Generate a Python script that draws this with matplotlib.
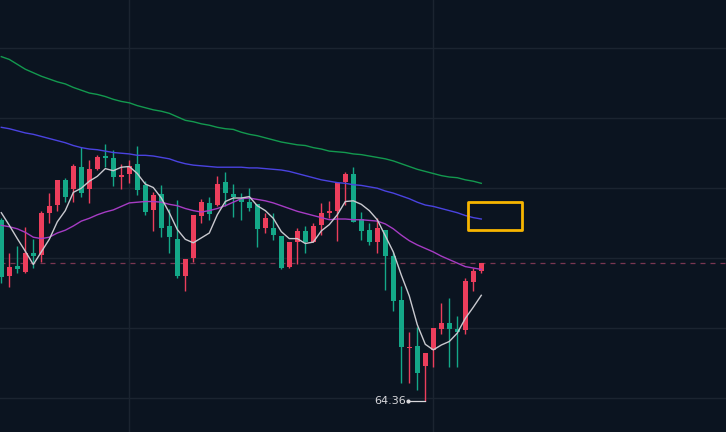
import matplotlib
matplotlib.use("Agg")
import matplotlib.pyplot as plt
from matplotlib.patches import Rectangle

# candle data (price), oldest first
opens = [66.95, 66.15, 66.29, 66.20, 66.47, 66.45, 67.05, 67.16, 67.52, 67.39,
         67.70, 67.39, 67.67, 67.86, 67.83, 67.56, 67.60, 67.75, 67.45, 67.09,
         67.32, 66.86, 66.67, 66.15, 66.40, 67.00, 67.19, 67.16, 67.49, 67.32,
         67.25, 67.20, 67.17, 66.83, 66.83, 66.72, 66.27, 66.63, 66.79, 66.63,
         66.87, 67.05, 67.07, 67.49, 67.60, 66.96, 66.80, 66.63, 66.80, 66.43,
         65.80, 65.12, 65.15, 64.86, 65.09, 65.39, 65.47, 65.39, 65.37, 66.06,
         66.22]
highs = [66.97, 66.47, 66.57, 66.85, 66.67, 67.07, 67.33, 67.52, 67.55, 67.75,
         67.99, 67.80, 67.87, 68.03, 67.95, 67.75, 67.80, 68.00, 67.50, 67.35,
         67.45, 67.10, 67.23, 66.39, 67.02, 67.25, 67.27, 67.57, 67.63, 67.46,
         67.33, 67.40, 67.17, 67.05, 67.05, 66.72, 66.63, 66.83, 66.86, 66.90,
         67.19, 67.22, 67.47, 67.63, 67.70, 67.06, 66.90, 66.97, 66.80, 66.49,
         66.00, 65.35, 65.42, 65.05, 65.40, 65.76, 65.83, 65.57, 66.12, 66.26,
         66.33]
lows = [66.05, 65.99, 66.19, 66.19, 66.26, 66.35, 66.90, 67.07, 67.20, 67.20,
        67.27, 67.19, 67.66, 67.70, 67.43, 67.39, 67.47, 67.30, 67.02, 66.79,
        66.70, 66.47, 66.12, 65.93, 66.35, 66.90, 66.95, 67.15, 67.15, 66.99,
        66.95, 67.07, 66.56, 66.76, 66.66, 66.25, 66.26, 66.32, 66.47, 66.63,
        66.73, 66.97, 66.65, 67.16, 66.92, 66.66, 66.59, 66.47, 65.95, 65.65,
        64.62, 64.62, 64.52, 64.36, 64.85, 65.32, 64.85, 64.85, 65.32, 65.93,
        66.19]
closes = [66.13, 66.27, 66.25, 66.47, 66.43, 67.05, 67.15, 67.52, 67.27, 67.72,
          67.33, 67.67, 67.85, 67.83, 67.56, 67.59, 67.72, 67.37, 67.06, 67.30,
          66.83, 66.70, 66.15, 66.39, 67.02, 67.20, 67.03, 67.46, 67.33, 67.27,
          67.20, 67.12, 66.82, 66.97, 66.73, 66.26, 66.63, 66.79, 66.63, 66.86,
          67.05, 67.07, 67.47, 67.60, 66.92, 66.79, 66.63, 66.83, 66.43, 65.79,
          65.13, 65.13, 64.76, 65.05, 65.40, 65.47, 65.39, 65.35, 66.07, 66.22,
          66.33]

# moving averages
ma5 = [67.05, 66.87, 66.68, 66.50, 66.31, 66.49, 66.67, 66.92, 67.08, 67.34,
       67.40, 67.50, 67.57, 67.68, 67.65, 67.70, 67.71, 67.61, 67.46, 67.41,
       67.26, 67.05, 66.81, 66.67, 66.62, 66.69, 66.76, 67.02, 67.21, 67.26,
       67.26, 67.28, 67.15, 67.08, 66.97, 66.78, 66.68, 66.68, 66.61, 66.63,
       66.79, 66.88, 67.02, 67.21, 67.22, 67.17, 67.08, 66.95, 66.72, 66.49,
       66.16, 65.86, 65.45, 65.17, 65.09, 65.16, 65.21, 65.33, 65.54, 65.70,
       65.87]
ma20 = [66.87, 66.85, 66.82, 66.77, 66.70, 66.68, 66.70, 66.76, 66.80, 66.86,
        66.93, 66.97, 67.02, 67.06, 67.09, 67.14, 67.19, 67.20, 67.21, 67.21,
        67.20, 67.17, 67.15, 67.11, 67.08, 67.06, 67.08, 67.11, 67.15, 67.20,
        67.25, 67.26, 67.24, 67.22, 67.19, 67.15, 67.11, 67.07, 67.04, 67.01,
        66.98, 66.95, 66.96, 66.96, 66.95, 66.95, 66.94, 66.93, 66.89, 66.82,
        66.73, 66.65, 66.59, 66.54, 66.49, 66.43, 66.38, 66.33, 66.28, 66.26,
        66.24]
ma60 = [68.27, 68.25, 68.22, 68.19, 68.17, 68.14, 68.11, 68.08, 68.05, 68.01,
        67.98, 67.96, 67.95, 67.93, 67.91, 67.90, 67.89, 67.87, 67.87, 67.86,
        67.84, 67.82, 67.78, 67.75, 67.73, 67.72, 67.71, 67.70, 67.70, 67.70,
        67.70, 67.69, 67.69, 67.68, 67.67, 67.66, 67.64, 67.61, 67.58, 67.55,
        67.52, 67.50, 67.48, 67.47, 67.45, 67.44, 67.42, 67.40, 67.36, 67.33,
        67.29, 67.25, 67.20, 67.16, 67.14, 67.11, 67.08, 67.05, 67.01, 66.98,
        66.96]
ma120 = [69.28, 69.24, 69.17, 69.10, 69.05, 69.00, 68.96, 68.92, 68.89, 68.84,
         68.80, 68.76, 68.74, 68.71, 68.67, 68.64, 68.62, 68.58, 68.55, 68.52,
         68.50, 68.47, 68.42, 68.37, 68.35, 68.32, 68.30, 68.27, 68.25, 68.24,
         68.20, 68.17, 68.15, 68.12, 68.09, 68.06, 68.04, 68.02, 68.01, 67.98,
         67.96, 67.93, 67.92, 67.91, 67.89, 67.88, 67.86, 67.84, 67.82, 67.79,
         67.75, 67.71, 67.67, 67.64, 67.61, 67.58, 67.56, 67.55, 67.52, 67.50,
         67.47]

grid_prices = [64.4, 65.4, 66.4, 67.4, 68.4, 69.4]
grid_bars = [16, 54]
box_x = (58.3, 65.15)
box_y = (66.80, 67.20)

BG = "#0b1420"
UP = "#ec3e5c"
DOWN = "#14a888"

fig = plt.figure(figsize=(7.26, 4.32), dpi=100)
fig.patch.set_facecolor(BG)
ax = fig.add_axes([0, 0, 1, 1])
ax.set_facecolor(BG)

for p in grid_prices:
    ax.axhline(p, color="#1b2430", lw=1, zorder=0)
for b in grid_bars:
    ax.axvline(b, color="#1b2430", lw=1, zorder=0)

w = 0.6
for i in range(len(closes)):
    o, h, l, c = opens[i], highs[i], lows[i], closes[i]
    col = UP if c >= o else DOWN
    ax.vlines(i, l, h, color=col, lw=1, zorder=2)
    bot = min(o, c)
    hgt = max(abs(c - o), 0.012)
    ax.add_patch(Rectangle((i - w / 2, bot), w, hgt, facecolor=col,
                           edgecolor="none", zorder=3))

x = list(range(len(closes)))
ax.plot(x, ma120, color="#13994f", lw=1, zorder=4)
ax.plot(x, ma60, color="#4a43e0", lw=1, zorder=4)
ax.plot(x, ma20, color="#a63cc4", lw=1, zorder=4)
ax.plot(x, ma5, color="#c9c9cf", lw=1, zorder=4)

# last price line
ax.axhline(closes[-1], color="#7a3652", lw=0.9, ls=(0, (4, 4)), zorder=1)

# lowest point marker
lo_i = lows.index(min(lows))
ax.plot([lo_i - 2.1, lo_i], [lows[lo_i]] * 2, color="#d8d8dc", lw=0.9, zorder=5)
ax.plot(lo_i - 2.1, lows[lo_i], "o", ms=2, color="#d8d8dc", zorder=5)
ax.text(lo_i - 2.4, lows[lo_i], f"{min(lows):.2f}", color="#d8d8dc",
        fontsize=8, ha="right", va="center", zorder=5)

ax.add_patch(Rectangle((box_x[0], box_y[0]), box_x[1] - box_x[0],
                       box_y[1] - box_y[0], fill=False, edgecolor="#f7b500",
                       lw=2, joinstyle="round", zorder=6))

ax.set_xlim(-0.1625, 90.59)
ax.set_ylim(63.917, 70.089)
ax.axis("off")

fig.savefig("out.png", dpi=100, facecolor=BG)
